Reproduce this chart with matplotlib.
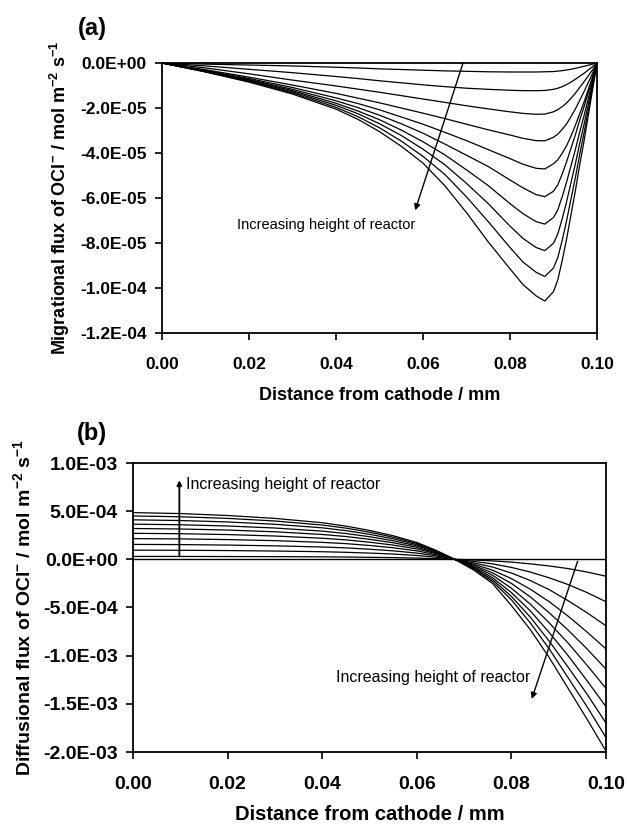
import matplotlib
matplotlib.use("Agg")
import matplotlib.pyplot as plt
import numpy as np
from matplotlib.ticker import FuncFormatter, MultipleLocator

plt.rcParams["font.family"] = ["Liberation Sans", "DejaVu Sans"]
plt.rcParams["mathtext.fontset"] = "custom"
plt.rcParams["mathtext.rm"] = "Liberation Sans:bold"
plt.rcParams["mathtext.bf"] = "Liberation Sans:bold"
plt.rcParams["mathtext.default"] = "bf"

# (a) migrational flux, values in 1e-5 mol m-2 s-1
mig_x = [0, 0.01, 0.02, 0.03, 0.04, 0.045, 0.05, 0.055, 0.06, 0.065, 0.07,
         0.075, 0.08, 0.083, 0.086, 0.088, 0.09, 0.091, 0.092, 0.093, 0.094,
         0.095, 0.096, 0.097, 0.098, 0.099, 0.1]
mig_1 = [0, -0.05, -0.09, -0.13, -0.19, -0.22, -0.26, -0.29, -0.32, -0.35, -0.37,
         -0.39, -0.40, -0.40, -0.40, -0.39, -0.38, -0.36, -0.34, -0.31, -0.28,
         -0.24, -0.19, -0.15, -0.10, -0.05, 0]
mig_2 = [0, -0.13, -0.28, -0.43, -0.6, -0.69, -0.79, -0.88, -0.97, -1.05, -1.12,
         -1.17, -1.21, -1.23, -1.23, -1.22, -1.17, -1.12, -1.05, -0.96, -0.85,
         -0.73, -0.59, -0.46, -0.31, -0.16, 0]
mig_3 = [0, -0.22, -0.48, -0.76, -1.02, -1.16, -1.3, -1.45, -1.6, -1.75, -1.9,
         -2.04, -2.17, -2.24, -2.28, -2.27, -2.17, -2.07, -1.94, -1.78, -1.57,
         -1.35, -1.09, -0.84, -0.57, -0.3, 0]
mig_4 = [0, -0.3, -0.63, -0.98, -1.35, -1.56, -1.77, -2.0, -2.23, -2.47, -2.72,
         -2.97, -3.2, -3.35, -3.45, -3.46, -3.3, -3.16, -2.95, -2.71, -2.39,
         -2.05, -1.67, -1.28, -0.87, -0.45, 0]
mig_5 = [0, -0.33, -0.69, -1.09, -1.55, -1.8, -2.08, -2.4, -2.72, -3.08, -3.45,
         -3.85, -4.25, -4.5, -4.68, -4.71, -4.48, -4.3, -4.01, -3.68, -3.26,
         -2.78, -2.27, -1.75, -1.18, -0.61, 0]
mig_6 = [0, -0.35, -0.73, -1.17, -1.68, -1.98, -2.32, -2.7, -3.12, -3.6, -4.1,
         -4.6, -5.2, -5.55, -5.85, -5.94, -5.7, -5.41, -4.93, -4.4, -3.8,
         -3.21, -2.55, -1.96, -1.31, -0.65, 0]
mig_7 = [0, -0.37, -0.76, -1.23, -1.79, -2.13, -2.52, -2.98, -3.5, -4.08, -4.75,
         -5.45, -6.25, -6.7, -7.05, -7.16, -6.87, -6.52, -5.94, -5.3, -4.58,
         -3.87, -3.08, -2.36, -1.58, -0.79, 0]
mig_8 = [0, -0.38, -0.79, -1.28, -1.88, -2.25, -2.7, -3.22, -3.83, -4.52, -5.35,
         -6.25, -7.25, -7.8, -8.2, -8.34, -8.01, -7.59, -6.92, -6.17, -5.34,
         -4.5, -3.59, -2.75, -1.83, -0.92, 0]
mig_9 = [0, -0.39, -0.82, -1.33, -1.97, -2.38, -2.88, -3.47, -4.15, -4.95, -5.95,
         -7.05, -8.2, -8.85, -9.3, -9.49, -9.11, -8.64, -7.88, -7.02, -6.07,
         -5.12, -4.08, -3.13, -2.09, -1.04, 0]
mig_10 = [0, -0.4, -0.85, -1.38, -2.05, -2.5, -3.05, -3.7, -4.45, -5.45, -6.65,
          -7.95, -9.15, -9.85, -10.35, -10.58, -10.16, -9.63, -8.78, -7.83, -6.77,
          -5.71, -4.55, -3.49, -2.33, -1.16, 0]
mig_curves = [mig_1, mig_2, mig_3, mig_4, mig_5, mig_6, mig_7, mig_8, mig_9, mig_10]
mig_unit = 1e-5

# (b) diffusional flux, values in 1e-4 mol m-2 s-1
dif_x = [0, 0.01, 0.02, 0.03, 0.04, 0.045, 0.05, 0.055, 0.06, 0.064, 0.068,
         0.072, 0.076, 0.08, 0.084, 0.088, 0.092, 0.096, 0.1]
dif_1 = [0.3, 0.3, 0.29, 0.28, 0.26, 0.24, 0.21, 0.18, 0.13, 0.07, 0,
         -0.07, -0.16, -0.29, -0.47, -0.69, -0.96, -1.32, -1.75]
dif_2 = [0.95, 0.94, 0.91, 0.86, 0.79, 0.73, 0.65, 0.55, 0.4, 0.22, 0,
         -0.21, -0.47, -0.84, -1.32, -1.92, -2.62, -3.45, -4.4]
dif_3 = [1.55, 1.53, 1.48, 1.4, 1.28, 1.19, 1.05, 0.88, 0.65, 0.36, 0,
         -0.36, -0.8, -1.42, -2.2, -3.15, -4.3, -5.55, -6.9]
dif_4 = [2.15, 2.12, 2.05, 1.94, 1.76, 1.63, 1.44, 1.2, 0.88, 0.49, 0,
         -0.5, -1.12, -2.0, -3.1, -4.4, -5.9, -7.55, -9.3]
dif_5 = [2.7, 2.66, 2.57, 2.42, 2.19, 2.02, 1.78, 1.48, 1.08, 0.6, 0,
         -0.62, -1.4, -2.5, -3.9, -5.55, -7.35, -9.3, -11.4]
dif_6 = [3.2, 3.15, 3.04, 2.86, 2.58, 2.37, 2.08, 1.72, 1.25, 0.69, 0,
         -0.73, -1.65, -3.0, -4.65, -6.6, -8.7, -11.0, -13.4]
dif_7 = [3.65, 3.59, 3.46, 3.25, 2.93, 2.68, 2.35, 1.93, 1.4, 0.77, 0,
         -0.83, -1.9, -3.45, -5.35, -7.6, -10.0, -12.6, -15.3]
dif_8 = [4.1, 4.03, 3.88, 3.64, 3.27, 2.98, 2.6, 2.13, 1.53, 0.84, 0,
         -0.92, -2.1, -3.85, -6.0, -8.5, -11.2, -14.0, -17.0]
dif_9 = [4.5, 4.42, 4.25, 3.98, 3.56, 3.24, 2.82, 2.3, 1.65, 0.9, 0,
         -1.0, -2.3, -4.2, -6.6, -9.3, -12.3, -15.3, -18.5]
dif_10 = [4.85, 4.75, 4.55, 4.25, 3.8, 3.45, 3.0, 2.45, 1.75, 0.95, 0,
          -1.1, -2.5, -4.8, -7.3, -10.2, -13.4, -16.6, -19.9]
dif_curves = [dif_1, dif_2, dif_3, dif_4, dif_5, dif_6, dif_7, dif_8, dif_9, dif_10]
dif_unit = 1e-4

x_ticks = [0, 0.02, 0.04, 0.06, 0.08, 0.10]
note = "Increasing height of reactor"


def style_axes(ax, fs, xpad, ypad):
    ax.set_xlim(0, 0.1)
    ax.set_xticks(x_ticks)
    ax.xaxis.set_major_formatter(FuncFormatter(lambda v, p: f"{v:.2f}"))
    ax.yaxis.set_major_formatter(FuncFormatter(lambda v, p: f"{v:.1E}"))
    ax.tick_params(direction="out", length=5, width=1.2, labelsize=fs)
    ax.tick_params(axis="x", pad=xpad)
    ax.tick_params(axis="y", pad=ypad)
    for lab in ax.get_xticklabels() + ax.get_yticklabels():
        lab.set_fontweight("bold")
    for s in ax.spines.values():
        s.set_linewidth(1.3)


fig = plt.figure(figsize=(6.27, 8.3), dpi=100)

# ---- panel (a)
ax = fig.add_axes([162 / 627, 1 - 333 / 830, 435 / 627, 270 / 830])
for ys in mig_curves:
    ax.plot(mig_x, np.array(ys) * mig_unit, color="black", lw=0.9)
ax.set_ylim(-1.2e-4, 0)
ax.yaxis.set_major_locator(MultipleLocator(2e-5))
style_axes(ax, 12.5, 12, 6)
ax.set_xlabel("Distance from cathode / mm", fontsize=13, fontweight="bold", labelpad=11)
ax.set_ylabel(r"Migrational flux of OCl$^{-}$ / mol m$^{-2}$ s$^{-1}$",
              fontsize=13, fontweight="bold", labelpad=6)
ax.annotate("", xy=(0.0582, -6.55e-5), xytext=(0.0692, 0),
            arrowprops=dict(arrowstyle="-|>", color="black", lw=1.0,
                            mutation_scale=9, shrinkA=0, shrinkB=0))
ax.text(0.0377, -7.2e-5, note, fontsize=10.5, ha="center", va="center")
fig.text(92 / 627, 1 - 28 / 830, "(a)", fontsize=17, fontweight="bold",
         ha="center", va="center")

# ---- panel (b)
ax = fig.add_axes([133 / 627, 1 - 752 / 830, 473 / 627, 289 / 830])
for ys in dif_curves:
    ax.plot(dif_x, np.array(ys) * dif_unit, color="black", lw=0.9)
ax.axhline(0, color="black", lw=1.0)
ax.set_ylim(-2e-3, 1e-3)
ax.yaxis.set_major_locator(MultipleLocator(5e-4))
style_axes(ax, 14, 12, 6)
ax.set_xlabel("Distance from cathode / mm", fontsize=14.5, fontweight="bold", labelpad=9)
ax.set_ylabel(r"Diffusional flux of OCl$^{-}$ / mol m$^{-2}$ s$^{-1}$",
              fontsize=14, fontweight="bold", labelpad=6)
ax.annotate("", xy=(0.0098, 8.2e-4), xytext=(0.0098, 0.3e-4),
            arrowprops=dict(arrowstyle="-|>", color="black", lw=1.3,
                            mutation_scale=7, shrinkA=0, shrinkB=0))
ax.text(0.0113, 7.8e-4, note, fontsize=11.5, ha="left", va="center")
ax.annotate("", xy=(0.0843, -1.45e-3), xytext=(0.094, -0.2e-4),
            arrowprops=dict(arrowstyle="-|>", color="black", lw=1.0,
                            mutation_scale=9, shrinkA=0, shrinkB=0))
ax.text(0.0839, -1.23e-3, note, fontsize=11.5, ha="right", va="center")
fig.text(92 / 627, 1 - 433 / 830, "(b)", fontsize=17, fontweight="bold",
         ha="center", va="center")

fig.savefig("out.png", dpi=100)
